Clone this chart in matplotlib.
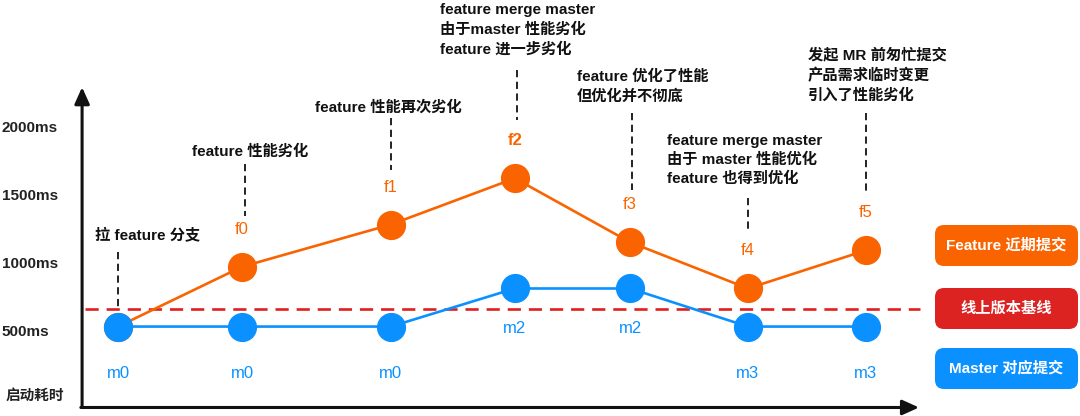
import matplotlib
matplotlib.use('Agg')
import matplotlib.pyplot as plt
from matplotlib.patches import FancyBboxPatch

plt.rcParams['font.family'] = ['Liberation Sans', 'Noto Sans CJK SC', 'DejaVu Sans']

# commit positions along the time axis
commit_x = [0, 1, 2.2, 3.2, 4.13, 5.08, 6.03]

# master commits (ms)
master_ms = [540, 540, 540, 820, 820, 540, 540]
master_labels = ['m0', 'm0', 'm0', 'm2', 'm2', 'm3', 'm3']

# feature branch: starts at first master commit, then f0..f5 (ms)
feature_ms = [540, 980, 1290, 1630, 1160, 820, 1100]
feature_labels = ['', 'f0', 'f1', 'f2', 'f3', 'f4', 'f5']

baseline_ms = 670

ytick_ms = [500, 1000, 1500, 2000]
ytick_labels = ['500ms', '1000ms', '1500ms', '2000ms']

# notes: text, left x, text center y, dashed line x, line top, line bottom
notes = [
    ('拉 feature 分支', -0.185, 1206, 0.0, 1088, baseline_ms),
    ('feature 性能劣化', 0.597, 1824, 1.02, 1735, 1353),
    ('feature 性能再次劣化', 1.589, 2154, 2.2, 2074, 1691),
    ('feature merge master\n由于master 性能劣化\nfeature 进一步劣化', 2.597, 2721, 3.22, 2426, 2059),
    ('feature 优化了性能\n但优化并不彻底', 3.70, 2305, 4.145, 2110, 1544),
    ('feature merge master\n由于 master 性能优化\nfeature 也得到优化', 4.427, 1765, 5.08, 1485, 1228),
    ('发起 MR 前匆忙提交\n产品需求临时变更\n引入了性能劣化', 5.565, 2390, 6.03, 2110, 1522),
]

legend_names = ['Feature 近期提交', '线上版本基线', 'Master 对应提交']

ORANGE = '#FA6400'
BLUE = '#0A91FF'
RED = '#E02020'

fig = plt.figure(figsize=(10.8, 4.16), dpi=100)
ax = fig.add_axes([0, 0, 1, 1])
ax.set_xlim(-0.952, 7.758)
ax.set_ylim(-117.6, 2941)
ax.axis('off')

# axes with arrows
ax.annotate('', xy=(-0.29, 2300), xytext=(-0.29, -55),
            arrowprops=dict(arrowstyle='-|>,head_length=1.0,head_width=0.45',
                            color='#111111', lw=2.2, shrinkA=0, shrinkB=0))
ax.annotate('', xy=(6.46, -55), xytext=(-0.30, -55),
            arrowprops=dict(arrowstyle='-|>,head_length=1.0,head_width=0.45',
                            color='#111111', lw=2.2, shrinkA=0, shrinkB=0))

for v, lab in zip(ytick_ms, ytick_labels):
    ax.text(-0.937, v, lab, ha='left', va='center', fontsize=11, fontweight='bold', color='#222222')
ax.text(-0.91, 29, '启动耗时', ha='left', va='center', fontsize=10.5, fontweight='bold', color='#222222')

# baseline
ax.plot([-0.27, 6.47], [baseline_ms, baseline_ms], color=RED, lw=1.9, dashes=(5, 3), zorder=2)

# feature + master lines
ax.plot(commit_x, feature_ms, color=ORANGE, lw=1.9, marker='o', markersize=20, zorder=3)
ax.plot(commit_x, master_ms, color=BLUE, lw=1.9, marker='o', markersize=20, zorder=4)

for x, v, lab in zip(commit_x, master_ms, master_labels):
    ax.annotate(lab, (x, v), xytext=(0, -34 if v < 700 else -29), textcoords='offset points',
                ha='center', va='center', fontsize=12, color=BLUE)
for x, v, lab in zip(commit_x, feature_ms, feature_labels):
    if lab:
        ax.annotate(lab, (x, v), xytext=(0, 27), textcoords='offset points',
                    ha='center', va='center', fontsize=12, color=ORANGE,
                    fontweight='bold' if lab == 'f2' else 'normal')

for txt, tx, ty, lx, ltop, lbot in notes:
    ax.text(tx, ty, txt, ha='left', va='center', fontsize=11, fontweight='bold',
            color='#111111', linespacing=1.45)
    ax.plot([lx, lx], [ltop, lbot], color='#111111', lw=1.3, dashes=(4, 2.5))

# legend boxes (figure fraction)
box_colors = [ORANGE, '#DD2222', BLUE]
box_tops = [225, 288, 348]
for name, c, top in zip(legend_names, box_colors, box_tops):
    x0, w, h = 935 / 1080, 143 / 1080, 41 / 416
    y0 = 1 - (top + 41) / 416
    p = FancyBboxPatch((x0, y0), w, h, boxstyle='round,pad=0,rounding_size=%f' % (9 / 1080),
                       mutation_aspect=1080 / 416, transform=fig.transFigure,
                       facecolor=c, edgecolor='none')
    fig.patches.append(p)
    fig.text(x0 + w / 2, y0 + h / 2, name, ha='center', va='center', fontsize=11,
             fontweight='bold', color='white')

fig.savefig('out.png', dpi=100)
